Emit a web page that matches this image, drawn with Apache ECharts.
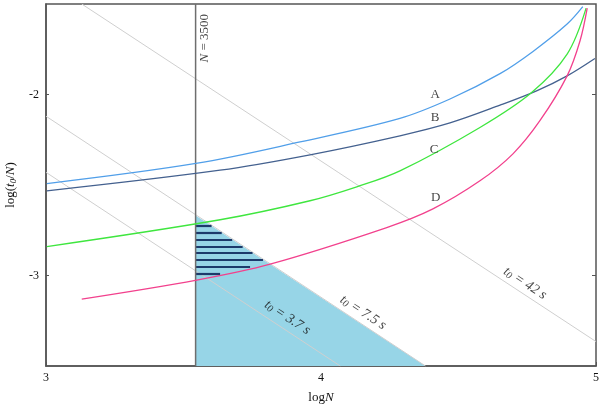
<!DOCTYPE html>
<html>
<head>
<meta charset="utf-8">
<script src="https://cdn.jsdelivr.net/npm/echarts@6/dist/echarts.min.js"></script>
<style>html,body{margin:0;padding:0;background:#fff}#c{width:602px;height:408px}</style>
</head>
<body>
<div id="c"></div>
<script>
// ---- data ----
var xTicks = [3, 4, 5];
var yTicks = [-3, -2];
var curveNames = ['A', 'B', 'C', 'D'];
var curveA = [[3.003,-2.492],[3.545,-2.381],[3.924,-2.262],[4.287,-2.132],[4.469,-2.025],[4.651,-1.885],[4.771,-1.762],[4.895,-1.611],[4.952,-1.515]];
var curveB = [[3.003,-2.532],[3.633,-2.418],[3.960,-2.333],[4.287,-2.228],[4.469,-2.157],[4.651,-2.059],[4.784,-1.980],[4.895,-1.897],[4.996,-1.801]];
var curveC = [[3.003,-2.840],[3.633,-2.692],[3.960,-2.587],[4.130,-2.510],[4.287,-2.422],[4.578,-2.182],[4.766,-1.989],[4.895,-1.777],[4.964,-1.523]];
var curveD = [[3.130,-3.130],[3.548,-3.025],[3.815,-2.937],[4.239,-2.735],[4.407,-2.632],[4.578,-2.477],[4.698,-2.328],[4.796,-2.145],[4.895,-1.897],[4.942,-1.703],[4.968,-1.523]];
var curveLabelPos = [[4.415,-1.998],[4.415,-2.130],[4.411,-2.302],[4.417,-2.569]];
// constant-t0 lines (endpoints)
var t0Names = ['3.7', '7.5', '42'];
var t0Lines = [
  [[3.00,-2.43],[4.07,-3.50]],
  [[3.00,-2.12],[4.38,-3.50]],
  [[3.13,-1.50],[5.00,-3.365]]
];
var t0LabelPos = [[3.878,-3.232],[4.153,-3.204],[4.742,-3.043]];
// N = 3500 line
var nLineX = 3.544;
var nLabelPos = [3.578,-1.689];
// shaded triangle edge (7.5 s line from N = 3500 to the bottom)
var triangleEdge = [[3.544,-2.669],[4.38,-3.50]];
// hatch lines: y value and right end x
var hatchY   = [-2.727,-2.764,-2.802,-2.840,-2.876,-2.914,-2.953,-2.992];
var hatchEnd = [3.602,3.639,3.677,3.715,3.751,3.789,3.742,3.633];

var SERIF = '"Liberation Serif","Times New Roman",serif';
var TXT = '#111';
var chart = echarts.init(document.getElementById('c'));

var hatchData = hatchY.map(function(y, i){ return {coords: [[nLineX, y], [hatchEnd[i], y]]}; });

var series = [
  {type:'line', data: triangleEdge, symbol:'none', lineStyle:{width:0},
   areaStyle:{color:'#97d5e7', opacity:1, origin:'start'}, z:1, silent:true},
  {type:'lines', coordinateSystem:'cartesian2d', data: hatchData,
   lineStyle:{color:'#1c3a6b', width:2.2, opacity:1}, z:3, silent:true}
];
t0Lines.forEach(function(l){
  series.push({type:'line', data:l, symbol:'none', lineStyle:{color:'#cfcfcf', width:1}, z:2, silent:true});
});
series.push({type:'line', data:[[nLineX,-3.5],[nLineX,-1.5]], symbol:'none',
  lineStyle:{color:'#6e6e6e', width:1.5}, z:4, silent:true});

var colors = ['#519fe9', '#44618f', '#3fe63f', '#f2418d'];
[curveA, curveB, curveC, curveD].forEach(function(d, i){
  series.push({type:'line', data:d, symbol:'none', smooth:0.35,
    lineStyle:{color:colors[i], width:1.3}, z:5, silent:true});
});
series.push({type:'scatter', symbolSize:0, z:6, silent:true,
  data: curveLabelPos.map(function(p, i){ return {value:p, name:curveNames[i]}; }),
  label:{show:true, position:'inside', formatter:function(p){return p.name;},
    fontFamily:SERIF, fontSize:13, color:TXT}});
series.push({type:'scatter', symbolSize:0, z:6, silent:true,
  data: t0LabelPos.map(function(p, i){ return {value:p, name:t0Names[i]}; }),
  label:{show:true, position:'inside', rotate:-33,
    formatter:function(p){ return '{i|t}{s|0}{n| = ' + p.name + ' s}'; },
    rich:{
      i:{fontFamily:SERIF, fontStyle:'italic', fontSize:14, color:TXT},
      s:{fontFamily:SERIF, fontStyle:'italic', fontSize:10, color:TXT, padding:[5,0,0,0]},
      n:{fontFamily:SERIF, fontStyle:'italic', fontSize:14, color:TXT}
    }}});
series.push({type:'scatter', symbolSize:0, z:6, silent:true,
  data:[{value:nLabelPos, name:'3500'}],
  label:{show:true, position:'inside', rotate:90,
    formatter:function(p){ return '{i|N}{n| = ' + p.name + '}'; },
    rich:{
      i:{fontFamily:SERIF, fontStyle:'italic', fontSize:13, color:TXT},
      n:{fontFamily:SERIF, fontSize:13, color:TXT}
    }}});

var axisLineStyle = {color:'#555', width:1.5};
chart.setOption({
  animation:false,
  backgroundColor:'#fff',
  grid:{left:46, right:6, top:4, bottom:42, show:true, borderColor:'#555', borderWidth:1.5,
    backgroundColor:'transparent', containLabel:false, outerBoundsMode:'none'},
  xAxis:[{
    type:'value', min:3, max:5, interval:1, position:'bottom',
    splitLine:{show:false},
    axisLine:{show:true, lineStyle:axisLineStyle},
    axisTick:{show:true, inside:true, length:4, lineStyle:{color:'#555'}},
    axisLabel:{show:true, margin:6, fontFamily:SERIF, fontSize:12, color:TXT,
      customValues: xTicks, formatter:function(v){return String(v);}},
    name:'{a|log}{b|N}', nameLocation:'middle', nameGap:25,
    nameTextStyle:{rich:{a:{fontFamily:SERIF, fontSize:13, color:TXT}, b:{fontFamily:SERIF, fontStyle:'italic', fontSize:13, color:TXT}}}
  }],
  yAxis:[{
    type:'value', min:-3.5, max:-1.5, interval:0.5, position:'left',
    splitLine:{show:false},
    axisLine:{show:true, onZero:false, lineStyle:axisLineStyle},
    axisTick:{show:true, inside:true, length:3, lineStyle:{color:'#555'}, customValues: yTicks},
    axisLabel:{show:true, margin:7, fontFamily:SERIF, fontSize:12, color:TXT, customValues: yTicks,
      formatter:function(v){return String(v);}},
    name:'{a|log(}{b|t}{c|0}{a|/}{b|N}{a|)}', nameLocation:'middle', nameGap:28, nameRotate:90,
    nameTextStyle:{rich:{
      a:{fontFamily:SERIF, fontSize:13, color:TXT},
      b:{fontFamily:SERIF, fontStyle:'italic', fontSize:13, color:TXT},
      c:{fontFamily:SERIF, fontStyle:'italic', fontSize:9, color:TXT, padding:[6,0,0,0]}}}
  },{
    type:'value', min:-3.5, max:-1.5, interval:0.5, position:'right',
    splitLine:{show:false},
    axisLine:{show:false},
    axisTick:{show:true, inside:true, length:4, lineStyle:{color:'#555'}, customValues: yTicks},
    axisLabel:{show:false}
  }],
  series: series
});
</script>
</body>
</html>
